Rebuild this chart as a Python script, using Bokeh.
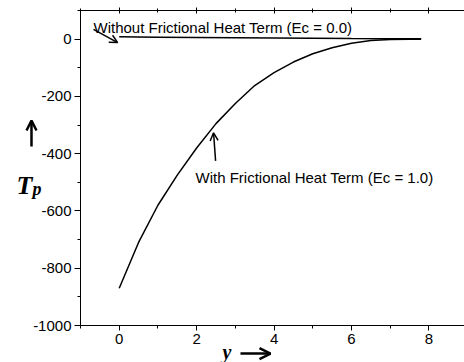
from bokeh.plotting import figure
from bokeh.models import LinearAxis, Label, Arrow, OpenHead, Range1d, FixedTicker
from bokeh.embed import file_html
from bokeh.resources import INLINE

# Data
y_with = [0, 0.5, 1, 1.5, 2, 2.5, 3, 3.5, 4, 4.5, 5, 5.5, 6, 6.5, 7, 7.5, 7.8]
T_with = [-870, -710, -580, -475, -380, -295, -225, -162, -117, -80, -51, -30, -14, -5, -1, 0, 0]
y_without = [0, 1, 2, 3, 4, 5, 6, 7, 7.8]
T_without = [8, 7, 6, 5, 4, 3, 2, 1.5, 1]

x_major = [0, 2, 4, 6, 8]
x_minor = [-1, 1, 3, 5, 7]
y_major = [-1000, -800, -600, -400, -200, 0]
y_minor = [-900, -700, -500, -300, -100, 100]
y_tick_labels = ["-1000", "-800", "-600", "-400", "-200", "0"]

label_without = "Without Frictional Heat Term (Ec = 0.0)"
label_with = "With Frictional Heat Term (Ec = 1.0)"

# visible axes box: x from -1 to 8.92, T from -1000 to 100
X0, X1, Y0, Y1 = -1.0, 8.92, -1000.0, 100.0
px_per_x = 384 / (X1 - X0)
px_per_y = 315 / (Y1 - Y0)

p = figure(width=464, height=362,
           x_range=Range1d(X0 - 80 / px_per_x, X1),
           y_range=Range1d(Y0 - 37 / px_per_y, Y1 + 10 / px_per_y),
           output_backend="svg", toolbar_location=None,
           x_axis_location=None, y_axis_location=None,
           min_border_left=0, min_border_right=0, min_border_top=0, min_border_bottom=0)
p.outline_line_color = None
p.grid.visible = False
p.background_fill_color = "white"
p.border_fill_color = "white"

def style(ax, labels=True):
    ax.axis_line_color = "black"
    ax.axis_line_width = 1
    ax.major_tick_line_color = "black"
    ax.minor_tick_line_color = "black"
    ax.major_label_text_font = "Liberation Sans"
    ax.major_label_text_font_size = "15px" if labels else "1px"
    ax.major_label_text_color = "black" if labels else None

xb = LinearAxis(ticker=FixedTicker(ticks=x_major, minor_ticks=x_minor),
                fixed_location=Y0, bounds=(X0, X1))
style(xb)
xb.major_tick_out = 5
xb.major_tick_in = 0
xb.minor_tick_out = 3
xb.minor_tick_in = 0
xb.major_label_standoff = 3
p.add_layout(xb, "below")

xt = LinearAxis(ticker=FixedTicker(ticks=x_major, minor_ticks=x_minor),
                fixed_location=Y1, bounds=(X0, X1))
style(xt, labels=False)
xt.major_tick_out = 3
xt.major_tick_in = 3
xt.minor_tick_out = 2
xt.minor_tick_in = 2
xt.major_label_standoff = 0
p.add_layout(xt, "above")

yl = LinearAxis(ticker=FixedTicker(ticks=y_major, minor_ticks=y_minor),
                fixed_location=X0, bounds=(Y0, Y1))
style(yl)
yl.major_label_overrides = {t: s for t, s in zip(y_major, y_tick_labels)}
yl.major_tick_out = 6
yl.major_tick_in = 0
yl.minor_tick_out = 3
yl.minor_tick_in = 0
yl.major_label_standoff = 3
p.add_layout(yl, "left")

p.line(y_without, T_without, line_color="black", line_width=1.5)
p.line(y_with, T_with, line_color="black", line_width=1.5)

p.add_layout(Label(x=-0.664, y=40, text=label_without, text_font="Liberation Sans",
                   text_font_size="15px", text_color="black", text_baseline="alphabetic"))
p.add_layout(Label(x=1.97, y=-484, text=label_with, text_font="Liberation Sans",
                   text_font_size="15px", text_color="black", text_baseline="alphabetic"))

p.add_layout(Arrow(x_start=-0.664, y_start=34, x_end=-0.04, y_end=-12, line_width=1.5,
                   end=OpenHead(size=8, line_width=1.5)))
p.add_layout(Arrow(x_start=2.49, y_start=-425, x_end=2.437, y_end=-327, line_width=1.5,
                   end=OpenHead(size=8, line_width=1.5)))

# axis titles
p.add_layout(Arrow(x_start=-2.266, y_start=-375, x_end=-2.266, y_end=-284, line_width=2.5,
                   end=OpenHead(size=10, line_width=2.5)))
p.add_layout(Label(x=-2.653, y=-511, text="T", text_font="Liberation Serif", text_font_style="bold italic",
                   text_font_size="26px", text_color="black", text_baseline="alphabetic"))
p.add_layout(Label(x=-2.24, y=-525, text="p", text_font="Liberation Serif", text_font_style="bold italic",
                   text_font_size="18px", text_color="black", text_baseline="alphabetic"))
p.add_layout(Label(x=2.668, y=-1094, text="y", text_font="Liberation Serif", text_font_style="bold italic",
                   text_font_size="20px", text_color="black", text_baseline="alphabetic"))
p.add_layout(Arrow(x_start=3.133, y_start=-1098, x_end=3.908, y_end=-1098, line_width=2.5,
                   end=OpenHead(size=11, line_width=2.5)))

open("out.html", "w").write(file_html(p, INLINE))
